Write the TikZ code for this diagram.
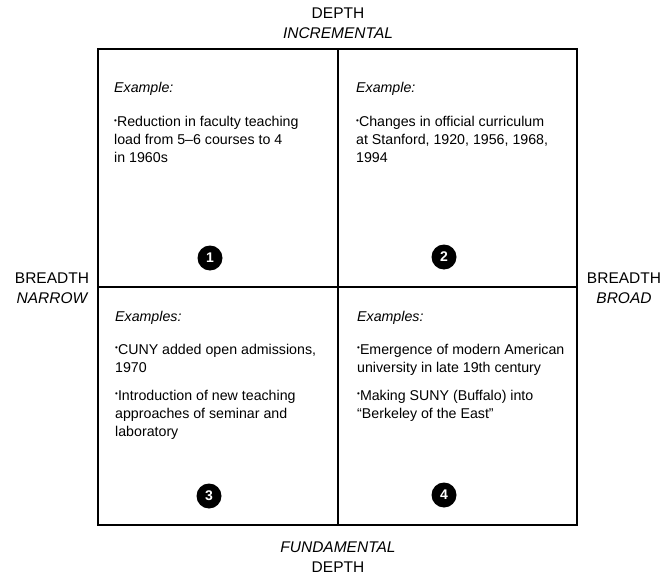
\documentclass[tikz,border=0pt]{standalone}
\usepackage{fontspec}
\setmainfont{Liberation Sans}
\begin{document}
\begin{tikzpicture}[x=1pt,y=-1pt,
  axislabel/.style={font=\fontsize{15.5}{18}\selectfont, anchor=base, inner sep=0pt},
  celltext/.style={font=\fontsize{14.2}{18}\selectfont, anchor=base west, inner sep=0pt},
  numdisc/.style={circle, fill=black, text=white, minimum size=25pt, inner sep=0pt,
    font=\fontsize{14}{14}\selectfont\bfseries},
  gridline/.style={line width=1.7pt}]
\newcommand{\bul}{\raisebox{0.5ex}{\fontsize{8}{8}\selectfont•}}
\useasboundingbox (0,0) rectangle (665,578);

% frame and the two dividers
\coordinate (tl) at (98,49);
\coordinate (br) at (577,525);
\coordinate (tm) at (338,49);
\coordinate (bm) at (338,525);
\coordinate (ml) at (98,287);
\coordinate (mr) at (577,287);
\draw[gridline] (tl) rectangle (br);
\draw[gridline] (tm) -- (bm);
\draw[gridline] (ml) -- (mr);

% axis labels
\node[axislabel] (depthtop) at (338,19) {DEPTH};
\node[axislabel] (incr) at (338,39) {\itshape INCREMENTAL};
\node[axislabel] (fund) at (338,552) {\itshape FUNDAMENTAL};
\node[axislabel] (depthbot) at (338,572) {DEPTH};
\node[axislabel] (breadthl) at (52,283) {BREADTH};
\node[axislabel] (narrow) at (52,303) {\itshape NARROW};
\node[axislabel] (breadthr) at (624,283) {BREADTH};
\node[axislabel] (broad) at (624,303) {\itshape BROAD};

% cell 1
\node[celltext] (ex1) at (114,93) {\itshape Example:};
\node[celltext] (a1) at (114,127) {\bul Reduction in faculty teaching};
\node[celltext] (a2) at (114,145) {load from 5–6 courses to 4};
\node[celltext] (a3) at (114,163) {in 1960s};
\node[numdisc] (n1) at (210,258) {1};

% cell 2
\node[celltext] (ex2) at (356,93) {\itshape Example:};
\node[celltext] (b1) at (356,127) {\bul Changes in official curriculum};
\node[celltext] (b2) at (356,145) {at Stanford, 1920, 1956, 1968,};
\node[celltext] (b3) at (356,163) {1994};
\node[numdisc] (n2) at (444,257) {2};

% cell 3
\node[celltext] (ex3) at (115,321) {\itshape Examples:};
\node[celltext] (c1) at (115,354) {\bul CUNY added open admissions,};
\node[celltext] (c2) at (115,372) {1970};
\node[celltext] (c3) at (115,400) {\bul Introduction of new teaching};
\node[celltext] (c4) at (115,418) {approaches of seminar and};
\node[celltext] (c5) at (115,436) {laboratory};
\node[numdisc] (n3) at (209,496) {3};

% cell 4
\node[celltext] (ex4) at (357,321) {\itshape Examples:};
\node[celltext] (d1) at (357,354) {\bul Emergence of modern American};
\node[celltext] (d2) at (357,372) {university in late 19th century};
\node[celltext] (d3) at (357,400) {\bul Making SUNY (Buffalo) into};
\node[celltext] (d4) at (357,418) {“Berkeley of the East”};
\node[numdisc] (n4) at (444,495) {4};
\end{tikzpicture}
\end{document}
